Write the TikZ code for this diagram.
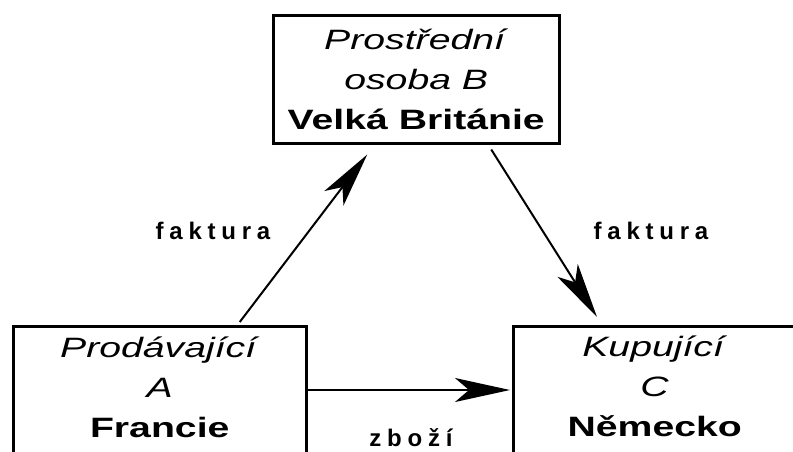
\documentclass[tikz,border=0pt]{standalone}
\usepackage{fontspec}
\setmainfont{Liberation Sans}[FakeStretch=1.4]
\newfontfamily\spacedfont{Liberation Sans}[LetterSpace=24]
\usetikzlibrary{arrows.meta,calc}

\begin{document}
\begin{tikzpicture}[x=1pt,y=-1pt]
	\useasboundingbox (0,0) rectangle (793,451);
	\clip (0,0) rectangle (793,451);
	\begin{scope}[every node/.style = {draw=black, line width=2.5pt,
			align=center, inner xsep=0pt, inner ysep=0pt,
			font=\fontsize{28}{40}\selectfont}]
		\node [anchor=north west, minimum width=286pt, minimum height=128pt] (B) at (272,14)
			{\textit{Prostřední}\\ \textit{osoba B}\\ \textbf{Velká Británie}};
		\node [anchor=north west, minimum width=293pt, text height=111pt, text depth=40pt] (A) at (12,325)
			{\textit{Prodávající}\\ \textit{A}\\ \textbf{Francie}};
		\node [anchor=north west, minimum width=283pt, text height=110pt, text depth=40pt] (C) at (512,325)
			{\textit{Kupující}\\ \textit{C}\\ \textbf{Německo}};
	\end{scope}
	\begin{scope}[every node/.style = {font=\fontsize{24}{24}\spacedfont\bfseries, anchor=base}]
		\node (fakturaAB) at (213,239) {faktura};
		\node (fakturaBC) at (651,239) {faktura};
		\node (zbozi) at (411,446) {zboží};
	\end{scope}
	\begin{scope}[>={Stealth[length=55pt, width=24pt, inset=14pt]},
			line width=2pt]
		\draw [->] ($(A.north)+(80,-3)$) -- ($(B.south)+(-49,10)$);
		\draw [->] ($(B.south)+(75,5)$) -- ($(C.north west)+(85,-8)$);
		\draw [->] ($(A.north east)+(0,65)$) -- ($(C.north west)+(-2,65)$);
	\end{scope}
\end{tikzpicture}
\end{document}
